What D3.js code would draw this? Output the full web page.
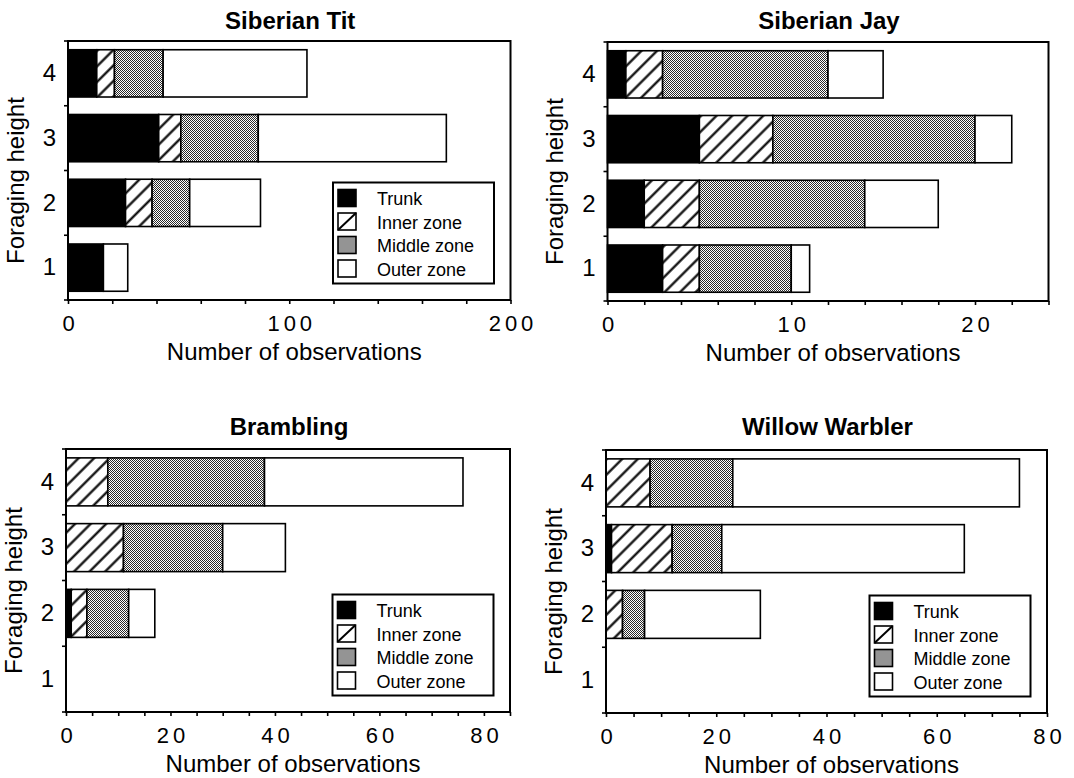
<!DOCTYPE html>
<html><head><meta charset="utf-8">
<script src="https://cdn.jsdelivr.net/npm/d3@7"></script>
<style>
html,body{margin:0;padding:0;background:#fff;}
svg{display:block;font-family:"Liberation Sans",Arial,Helvetica,sans-serif;}
</style></head><body>
<svg id="chart" width="1074" height="778"></svg>
<script>
// ---------- DATA ----------
const heights = ["4","3","2","1"];            // top to bottom
const zones = ["Trunk","Inner zone","Middle zone","Outer zone"];
const speciesNames = ["Siberian Tit","Siberian Jay","Brambling","Willow Warbler"];
// values listed for foraging height 1,2,3,4
const titTrunk  = [16, 26, 41, 13];
const titInner  = [0, 12, 10, 8];
const titMiddle = [0, 17, 35, 22];
const titOuter  = [11, 32, 85, 65];
const jayTrunk  = [3, 2, 5, 1];
const jayInner  = [2, 3, 4, 2];
const jayMiddle = [5, 9, 11, 9];
const jayOuter  = [1, 4, 2, 3];
const bramTrunk  = [0, 1, 0, 0];
const bramInner  = [0, 3, 11, 8];
const bramMiddle = [0, 8, 19, 30];
const bramOuter  = [0, 5, 12, 38];
const wwTrunk  = [0, 0, 1, 0];
const wwInner  = [0, 3, 11, 8];
const wwMiddle = [0, 4, 9, 15];
const wwOuter  = [0, 21, 44, 52];
const xMaxes = [200, 24, 85, 80];
const xMinorSteps = [20, 2, 5, 5];
const xLabelTicks = [[0,100,200],[0,10,20],[0,20,40,60,80],[0,20,40,60,80]];
const xTitle = "Number of observations";
const yTitle = "Foraging height";

const seriesBySpecies = [
  [titTrunk, titInner, titMiddle, titOuter],
  [jayTrunk, jayInner, jayMiddle, jayOuter],
  [bramTrunk, bramInner, bramMiddle, bramOuter],
  [wwTrunk, wwInner, wwMiddle, wwOuter]
];

// ---------- LAYOUT ----------
const panels = [
  {left:68,    right:510.5,  top:41,  bottom:300, titleY:29,  legend:true},
  {left:607.5, right:1048.5, top:42,  bottom:301, titleY:29,  legend:false},
  {left:66,    right:510,    top:449, bottom:712, titleY:435, legend:true},
  {left:606,   right:1047,   top:450, bottom:713, titleY:435, legend:true}
];

const svg = d3.select("#chart");
svg.append("rect").attr("width",1074).attr("height",778).attr("fill","#fff");
const defs = svg.append("defs");
const st = defs.append("pattern").attr("id","stipple").attr("patternUnits","userSpaceOnUse")
  .attr("width",2).attr("height",2);
st.append("rect").attr("width",2).attr("height",2).attr("fill","#fff");
st.append("rect").attr("width",1).attr("height",1).attr("fill","#2a2a2a").attr("shape-rendering","crispEdges");
st.append("rect").attr("x",1).attr("y",1).attr("width",1).attr("height",1).attr("fill","#2a2a2a").attr("shape-rendering","crispEdges");
const ht = defs.append("pattern").attr("id","hatch").attr("patternUnits","userSpaceOnUse")
  .attr("width",11).attr("height",11).attr("patternTransform","rotate(45)");
ht.append("rect").attr("width",11).attr("height",11).attr("fill","#fff");
ht.append("line").attr("x1",5.5).attr("y1",0).attr("x2",5.5).attr("y2",11)
  .attr("stroke","#000").attr("stroke-width",2.2);

const fills = ["#000","url(#hatch)","url(#stipple)","#fff"];

panels.forEach((p, i) => {
  const g = svg.append("g");
  const vals = seriesBySpecies[i];
  const rows = heights.map(h => {
    const k = +h - 1;
    const r = {height: h};
    zones.forEach((z, zi) => r[z] = vals[zi][k]);
    return r;
  });
  const x = d3.scaleLinear().domain([0, xMaxes[i]]).range([p.left, p.right]);
  const y = d3.scaleBand().domain(heights).range([p.top, p.bottom])
    .paddingInner(0.27).paddingOuter(0.135);
  const stacked = d3.stack().keys(zones)(rows);

  // bars
  stacked.forEach((s, zi) => {
    g.append("g").selectAll("rect")
      .data(s.filter(d => d[1] - d[0] > 0))
      .join("rect")
      .attr("x", d => x(d[0]))
      .attr("y", d => y(d.data.height))
      .attr("width", d => x(d[1]) - x(d[0]))
      .attr("height", y.bandwidth())
      .attr("fill", fills[zi])
      .attr("stroke", "#000")
      .attr("stroke-width", 1.6);
  });

  // frame
  g.append("rect").attr("x", p.left).attr("y", p.top)
    .attr("width", p.right - p.left).attr("height", p.bottom - p.top)
    .attr("fill", "none").attr("stroke", "#000").attr("stroke-width", 2);

  // x axis
  const tickVals = d3.range(0, xMaxes[i] + 1e-9, xMinorSteps[i]);
  const ax = g.append("g").attr("transform", `translate(0,${p.bottom})`)
    .call(d3.axisBottom(x).tickValues(tickVals).tickSize(4).tickPadding(11)
      .tickFormat(v => xLabelTicks[i].includes(v) ? String(v) : ""));
  ax.select(".domain").remove();
  ax.selectAll(".tick line").attr("stroke", "#000").attr("stroke-width", 1.6);
  ax.selectAll(".tick text").attr("fill", "#000")
    .style("font-size", "22px").style("letter-spacing", "4px")
    .attr("dx", "2px")
    .style("font-family", '"Liberation Sans",Arial,sans-serif');

  // y axis labels
  const ay = g.append("g").attr("transform", `translate(${p.left},0)`)
    .call(d3.axisLeft(y).tickSize(0).tickPadding(12));
  ay.select(".domain").remove();
  ay.selectAll(".tick text").attr("fill", "#000")
    .style("font-size", "24px")
    .style("font-family", '"Liberation Sans",Arial,sans-serif');
  // y boundary ticks
  const bounds = heights.map(h => y(h) - (y.step() - y.bandwidth()) / 2).concat([p.bottom]);
  g.append("g").selectAll("line").data(bounds).join("line")
    .attr("x1", p.left - 4).attr("x2", p.left)
    .attr("y1", d => d).attr("y2", d => d)
    .attr("stroke", "#000").attr("stroke-width", 1.6);

  // titles
  g.append("text").attr("x", (p.left + p.right) / 2 + 1).attr("y", p.titleY)
    .attr("text-anchor", "middle").style("font-weight", "bold").style("font-size", "24px")
    .text(speciesNames[i]);
  g.append("text").attr("x", (p.left + p.right) / 2 + 5).attr("y", p.bottom + 60)
    .attr("text-anchor", "middle").style("font-size", "24px").text(xTitle);
  g.append("text")
    .attr("transform", `translate(${p.left - 44.5},${(p.top + p.bottom) / 2 + 10}) rotate(-90)`)
    .attr("text-anchor", "middle").style("font-size", "24px").text(yTitle);

  // legend
  if (p.legend) {
    const lw = 161, lh = 101;
    const lg = g.append("g").attr("transform", `translate(${p.right - 16.5 - lw},${p.bottom - 16.5 - lh})`);
    lg.append("rect").attr("width", lw).attr("height", lh).attr("fill", "#fff")
      .attr("stroke", "#000").attr("stroke-width", 2);
    zones.forEach((z, zi) => {
      const ry = 7 + 23.5 * zi;
      lg.append("rect").attr("x", 5).attr("y", ry).attr("width", 18).attr("height", 17)
        .attr("fill", zi === 1 ? "#fff" : fills[zi]).attr("stroke", "#000").attr("stroke-width", 1.6);
      if (zi === 1) {
        lg.append("line").attr("x1", 5).attr("y1", ry + 17).attr("x2", 23).attr("y2", ry)
          .attr("stroke", "#000").attr("stroke-width", 2);
      }
      lg.append("text").attr("x", 44).attr("y", ry + 15.5).style("font-size", "18px").text(z);
    });
  }
});
</script>
</body></html>
